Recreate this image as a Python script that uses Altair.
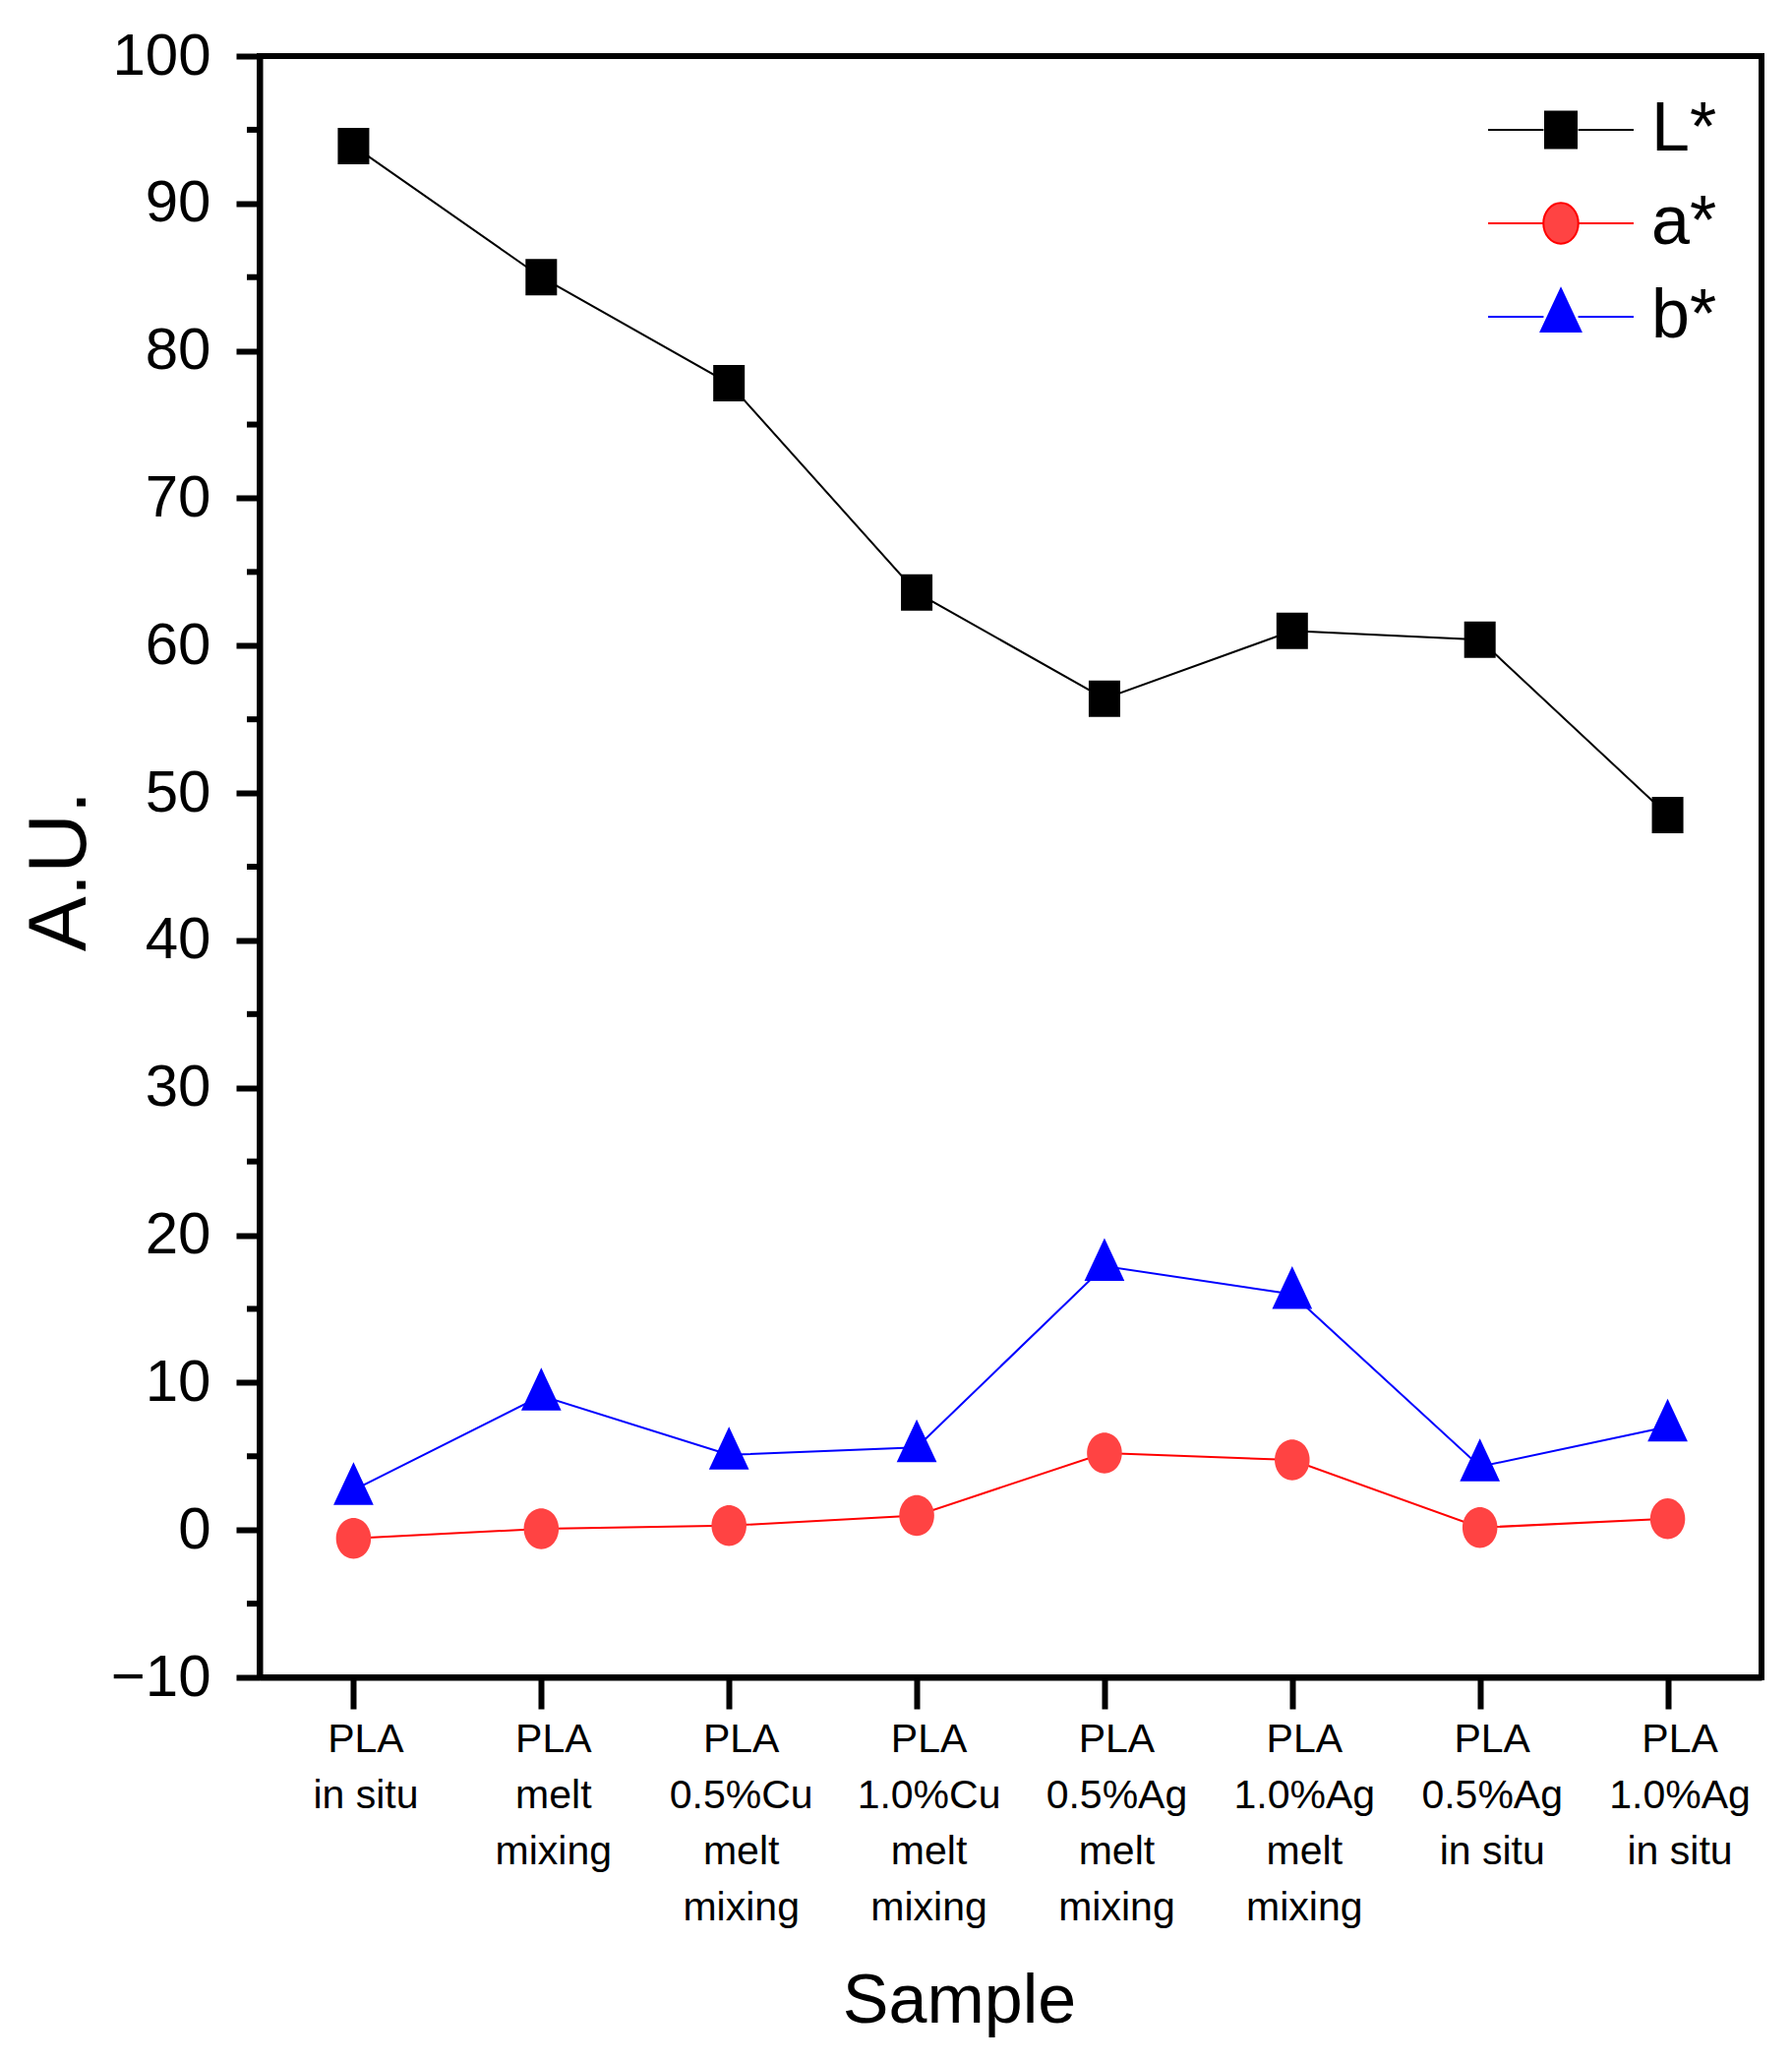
import altair as alt
import pandas as pd

samples = [
    "PLA\nin situ",
    "PLA\nmelt\nmixing",
    "PLA\n0.5%Cu\nmelt\nmixing",
    "PLA\n1.0%Cu\nmelt\nmixing",
    "PLA\n0.5%Ag\nmelt\nmixing",
    "PLA\n1.0%Ag\nmelt\nmixing",
    "PLA\n0.5%Ag\nin situ",
    "PLA\n1.0%Ag\nin situ",
]
series = ["L*", "a*", "b*"]
L_star = [93.9, 85.0, 77.8, 63.6, 56.4, 61.0, 60.4, 48.5]
a_star = [-0.57, 0.08, 0.29, 0.98, 5.22, 4.75, 0.16, 0.76]
b_star = [2.7, 9.1, 5.1, 5.6, 17.9, 16.0, 4.3, 7.0]
y_ticks = [-10, 0, 10, 20, 30, 40, 50, 60, 70, 80, 90, 100]
y_minor = [-5, 5, 15, 25, 35, 45, 55, 65, 75, 85, 95]

line_colors = ["#000000", "#FF0000", "#0000FF"]
fill_colors = ["#000000", "#FF4343", "#0000FF"]

# marker paths (unit = sqrt(size)/2)
sq = "M-0.865,-1H0.865V1H-0.865Z"
el = "M-0.96,0A0.96,1.12,0,1,0,0.96,0A0.96,1.12,0,1,0,-0.96,0Z"
tri = "M0,-1.54L1.1,0.81L-1.1,0.81Z"
leg_line = "M-4,0H-0.95M0.95,0H4"
marker_shapes = [sq, el, tri]
legend_shapes = [leg_line + s for s in marker_shapes]

rows = []
for name, vals in zip(series, [L_star, a_star, b_star]):
    for s, v in zip(samples, vals):
        rows.append({"sample": s, "series": name, "value": v})
df = pd.DataFrame(rows)
minor_df = pd.DataFrame({"v": y_minor})

FONT = "Liberation Sans, Arial"

x_axis = alt.Axis(
    title="Sample", titleFont=FONT, titleFontSize=70, titleFontWeight="normal",
    titleX=711, titleY=350, titleBaseline="alphabetic", titleAlign="center",
    labelExpr="split(datum.label, '\\n')", labelAngle=0, labelAlign="center",
    labelBaseline="top", labelFont=FONT, labelFontSize=41, labelLineHeight=57,
    labelPadding=11, labelOffset=12, labelLimit=400, labelOverlap=False,
    labelColor="black", tickSize=32, tickWidth=6, tickColor="black",
    domainWidth=6, domainColor="black", grid=False,
)
y_axis = alt.Axis(
    title="A.U.", titleFont=FONT, titleFontSize=84, titleFontWeight="normal",
    titleAngle=270, titleX=-178, titleY=828, titleBaseline="alphabetic",
    titleAlign="center", values=y_ticks, labelFont=FONT, labelFontSize=60,
    labelPadding=26, labelFlush=False, labelColor="black", tickSize=24,
    tickWidth=6, tickColor="black", domainWidth=6, domainColor="black", grid=False,
)
x_enc = alt.X("sample:N", sort=samples, scale=alt.Scale(type="point", padding=0.5), axis=x_axis)
y_scale = alt.Scale(domain=[-10, 100], nice=False, zero=False)
y_enc = alt.Y("value:Q", scale=y_scale, axis=y_axis)

minor = alt.Chart(minor_df).mark_rule(color="black", strokeWidth=6).encode(
    y=alt.Y("v:Q", scale=y_scale, axis=y_axis),
    x=alt.value(-13),
    x2=alt.value(0),
)

lines = alt.Chart(df).mark_line(strokeWidth=2).encode(
    x=x_enc, y=y_enc,
    stroke=alt.Stroke("series:N", scale=alt.Scale(domain=series, range=line_colors), legend=None),
)

points = alt.Chart(df).mark_point(filled=True, opacity=1, size=1369, strokeWidth=0).encode(
    x=x_enc, y=y_enc,
    fill=alt.Fill("series:N", scale=alt.Scale(domain=series, range=fill_colors), legend=None),
    shape=alt.Shape("series:N", scale=alt.Scale(domain=series, range=marker_shapes), legend=None),
)

leg = alt.Legend(
    title=None, orient="none", legendX=1288, legendY=40, padding=0,
    symbolSize=1369, symbolStrokeWidth=2, symbolOpacity=1,
    labelFont=FONT, labelFontSize=70, labelColor="black",
    labelOffset=57, rowPadding=25, labelLimit=300,
)
legend_layer = alt.Chart(df).mark_point(filled=True, opacity=1, size=1369, strokeWidth=2).encode(
    fill=alt.Fill("series:N", scale=alt.Scale(domain=series, range=fill_colors), legend=leg),
    stroke=alt.Stroke("series:N", scale=alt.Scale(domain=series, range=line_colors), legend=leg),
    shape=alt.Shape("series:N", scale=alt.Scale(domain=series, range=legend_shapes), legend=leg),
).transform_filter("false")

chart = (
    alt.layer(minor, lines, points, legend_layer)
    .resolve_scale(shape="independent", fill="independent", stroke="independent")
    .properties(
        width=1527, height=1648,
        padding={"left": 256, "top": 49, "right": 23, "bottom": 383},
        autosize=alt.AutoSizeParams(type="none"),
        background="white",
    )
    .configure_view(stroke="black", strokeWidth=6)
)

chart.save("out.html", embed_options={"renderer": "svg", "actions": False})
